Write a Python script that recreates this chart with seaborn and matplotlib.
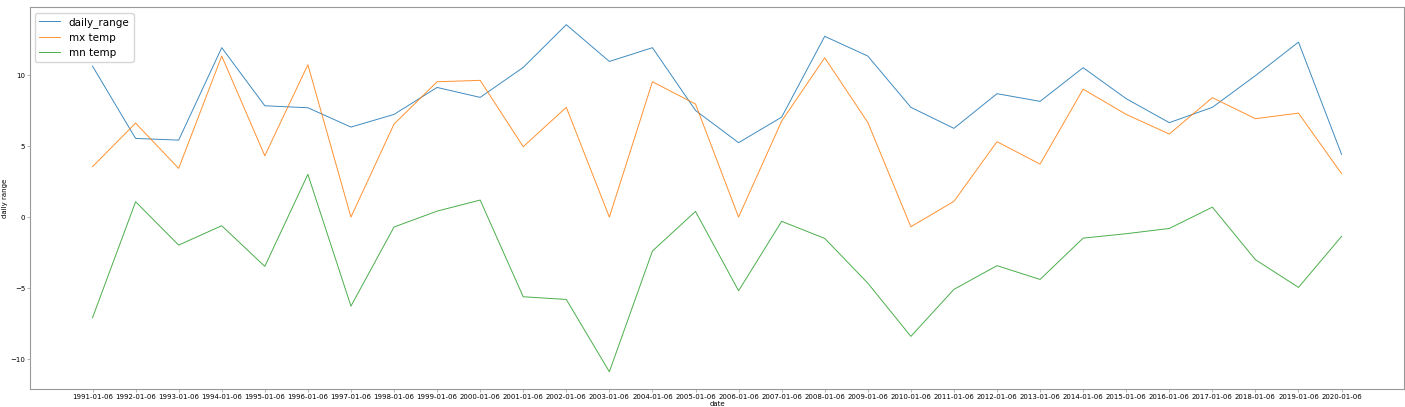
import pandas as pd
import matplotlib
matplotlib.use('Agg')
import matplotlib.pyplot as plt
import seaborn as sns

# Values
dates = [f'{y}-01-06' for y in range(1991, 2021)]
daily_range = [10.63, 5.54, 5.42, 11.93, 7.84, 7.70, 6.34, 7.23, 9.13, 8.43,
               10.54, 13.55, 10.96, 11.93, 7.51, 5.24, 7.04, 12.73, 11.34, 7.73,
               6.25, 8.69, 8.15, 10.52, 8.34, 6.65, 7.73, 9.96, 12.32, 4.42]
mx_temp = [3.55, 6.62, 3.43, 11.34, 4.32, 10.73, 0.0, 6.55, 9.53, 9.63,
           4.96, 7.73, 0.0, 9.53, 7.96, 0.0, 6.76, 11.22, 6.67, -0.68,
           1.11, 5.31, 3.73, 9.01, 7.23, 5.85, 8.41, 6.93, 7.32, 3.06]
mn_temp = [-7.09, 1.08, -1.97, -0.61, -3.47, 3.01, -6.27, -0.70, 0.42, 1.20,
           -5.61, -5.80, -10.89, -2.39, 0.40, -5.19, -0.30, -1.50, -4.65, -8.40,
           -5.09, -3.42, -4.39, -1.48, -1.17, -0.80, 0.70, -3.00, -4.95, -1.36]

df = pd.DataFrame({'date': dates, 'daily_range': daily_range,
                   'mx temp': mx_temp, 'mn temp': mn_temp})

fig, ax = plt.subplots(figsize=(14.05, 4.07), dpi=100)
fig.subplots_adjust(left=0.0214, right=0.9993, top=0.982, bottom=0.044)

# thin, slightly faded lines like the reference
for col in ['daily_range', 'mx temp', 'mn temp']:
    sns.lineplot(data=df, x='date', y=col, ax=ax, label=col, lw=0.7, alpha=0.85)

ax.set_xlabel('date', fontsize=5, labelpad=1)
ax.set_ylabel('daily range', fontsize=5, labelpad=2)
ax.tick_params(labelsize=5, length=2, width=0.5, color='#999999', pad=1.5)
ax.set_yticks([-10, -5, 0, 5, 10])
for s in ax.spines.values():
    s.set_color('#999999')
    s.set_linewidth(0.8)

ax.legend(loc='upper left', fontsize=7.5, handlelength=2.0)

plt.savefig('out.png', dpi=100)
